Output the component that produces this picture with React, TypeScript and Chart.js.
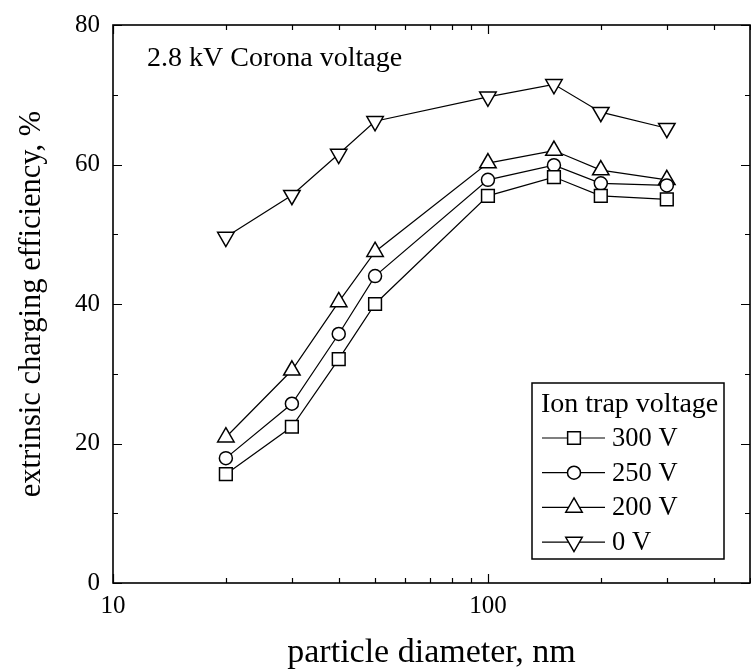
import React, { useEffect, useRef } from 'react';
import { Chart, registerables } from 'chart.js';
import { drawPoint } from 'chart.js/helpers';

Chart.register(...registerables);

const diameters = [20, 30, 40, 50, 100, 150, 200, 300];
const eff300 = [15.6, 22.4, 32.1, 40.0, 55.5, 58.2, 55.5, 55.0];
const eff250 = [17.9, 25.7, 35.7, 44.0, 57.8, 59.9, 57.3, 57.0];
const eff200 = [20.9, 30.5, 40.3, 47.5, 60.2, 62.0, 59.2, 57.8];
const eff0 = [49.6, 55.6, 61.5, 66.2, 69.7, 71.5, 67.5, 65.2];
const seriesLabels = ['300 V', '250 V', '200 V', '0 V'];
const xTickLabels = [10, 100];
const yTickLabels = [0, 20, 40, 60, 80];
const legendTitle = 'Ion trap voltage';
const annotationText = '2.8 kV Corona voltage';
const xTitle = 'particle diameter, nm';
const yTitle = 'extrinsic charging efficiency, %';

const FONT = '"Liberation Serif", "Times New Roman", serif';

const markerStyles = [
  { pointStyle: 'rect', radius: 9, rotation: 0 },
  { pointStyle: 'circle', radius: 6.5, rotation: 0 },
  { pointStyle: 'triangle', radius: 9.5, rotation: 0 },
  { pointStyle: 'triangle', radius: 9.5, rotation: 180 },
];

const seriesValues = [eff300, eff250, eff200, eff0];

const framePlugin = {
  id: 'frameTicks',
  beforeDatasetsDraw(chart: any) {
    const { ctx, chartArea: a, scales } = chart;
    ctx.save();
    ctx.strokeStyle = '#000';
    ctx.lineWidth = 1.2;
    const xs = scales.x;
    const ys = scales.y;
    ctx.beginPath();
    xs.ticks.forEach((t: any) => {
      const dec = Math.pow(10, Math.floor(Math.log10(t.value) + 1e-9));
      const mant = t.value / dec;
      if (Math.abs(mant - Math.round(mant)) > 1e-6) return;
      const px = Math.round(xs.getPixelForValue(t.value)) + 0.5;
      const major = Math.abs(mant - 1) < 1e-6;
      const len = major ? 9 : 5;
      ctx.moveTo(px, a.bottom);
      ctx.lineTo(px, a.bottom - len);
      ctx.moveTo(px, a.top);
      ctx.lineTo(px, a.top + len);
    });
    ys.ticks.forEach((t: any) => {
      const py = Math.round(ys.getPixelForValue(t.value)) + 0.5;
      const major = t.value % 20 === 0;
      const len = major ? 9 : 5;
      ctx.moveTo(a.left, py);
      ctx.lineTo(a.left + len, py);
      ctx.moveTo(a.right, py);
      ctx.lineTo(a.right - len, py);
    });
    ctx.stroke();
    ctx.lineWidth = 1.6;
    ctx.strokeRect(a.left, a.top, a.right - a.left, a.bottom - a.top);
    ctx.restore();
  },
  afterDraw(chart: any) {
    const { ctx, chartArea: a } = chart;
    ctx.save();
    ctx.fillStyle = '#000';
    ctx.textBaseline = 'alphabetic';
    ctx.textAlign = 'left';
    ctx.font = `28px ${FONT}`;
    ctx.fillText(annotationText, a.left + 34, a.top + 41);

    // legend
    const boxL = a.right - 218;
    const boxT = a.bottom - 200;
    const boxW = 192;
    const boxH = 176;
    ctx.lineWidth = 1.5;
    ctx.strokeStyle = '#000';
    ctx.fillStyle = '#fff';
    ctx.fillRect(boxL, boxT, boxW, boxH);
    ctx.strokeRect(boxL, boxT, boxW, boxH);
    ctx.fillStyle = '#000';
    ctx.font = `28px ${FONT}`;
    ctx.textBaseline = 'middle';
    ctx.fillText(legendTitle, boxL + 9, boxT + 22);
    ctx.font = `26.5px ${FONT}`;
    seriesLabels.forEach((lab, i) => {
      const y = boxT + 55 + i * 34.7;
      ctx.lineWidth = 1.2;
      ctx.beginPath();
      ctx.moveTo(boxL + 10, y);
      ctx.lineTo(boxL + 73, y);
      ctx.stroke();
      ctx.fillStyle = '#fff';
      ctx.lineWidth = 1.5;
      drawPoint(ctx, { ...markerStyles[i], borderWidth: 1.5 } as any, boxL + 42, y);
      ctx.fillStyle = '#000';
      ctx.fillText(lab, boxL + 80, y + 1);
    });
    ctx.restore();
  },
};

export default function App() {
  const ref = useRef<HTMLCanvasElement | null>(null);
  useEffect(() => {
    if (!ref.current) return;
    const datasets = seriesLabels.map((lab, i) => ({
      label: lab,
      data: diameters.map((d, j) => ({ x: d, y: seriesValues[i][j] })),
      borderColor: '#000',
      borderWidth: 1.2,
      backgroundColor: '#fff',
      pointBackgroundColor: '#fff',
      pointBorderColor: '#000',
      pointBorderWidth: 1.5,
      pointStyle: markerStyles[i].pointStyle,
      pointRadius: markerStyles[i].radius,
      pointRotation: markerStyles[i].rotation,
      fill: false,
      tension: 0,
    }));
    const chart = new Chart(ref.current, {
      type: 'line',
      data: { datasets } as any,
      options: {
        animation: false,
        responsive: false,
        layout: { autoPadding: false, padding: { top: 25, right: 1, left: 0, bottom: 0 } },
        plugins: { legend: { display: false }, tooltip: { enabled: false } },
        scales: {
          x: {
            type: 'logarithmic',
            min: 10,
            max: 500,
            grid: { display: false, drawTicks: true, tickLength: 8 },
            border: { display: false },
            afterFit: (s: any) => {
              s.height = 87;
            },
            ticks: {
              autoSkip: false,
              maxRotation: 0,
              color: '#000',
              padding: 0,
              font: { family: FONT, size: 25 },
              callback: (v: any) => (xTickLabels.includes(Number(v)) ? String(v) : ''),
            },
            title: {
              display: true,
              text: xTitle,
              color: '#000',
              font: { family: FONT, size: 34, lineHeight: 1 },
              padding: { top: 0, bottom: 0 },
            },
          },
          y: {
            min: 0,
            max: 80,
            grid: { display: false, drawTicks: true, tickLength: 13 },
            border: { display: false },
            afterFit: (s: any) => {
              s.width = 113;
            },
            ticks: {
              stepSize: 10,
              autoSkip: false,
              color: '#000',
              padding: 0,
              font: { family: FONT, size: 25 },
              callback: (v: any) => (yTickLabels.includes(Number(v)) ? String(v) : ''),
            },
            title: {
              display: true,
              text: yTitle,
              color: '#000',
              font: { family: FONT, size: 30.5, lineHeight: 1 },
              padding: { top: 17, bottom: 0 },
            },
          },
        },
      },
      plugins: [framePlugin],
    } as any);
    return () => chart.destroy();
  }, []);
  return (
    <div style={{ position: 'absolute', left: 0, top: 0, width: 751, height: 670, background: '#fff' }}>
      <canvas ref={ref} width={751} height={670} style={{ display: 'block' }} />
    </div>
  );
}
